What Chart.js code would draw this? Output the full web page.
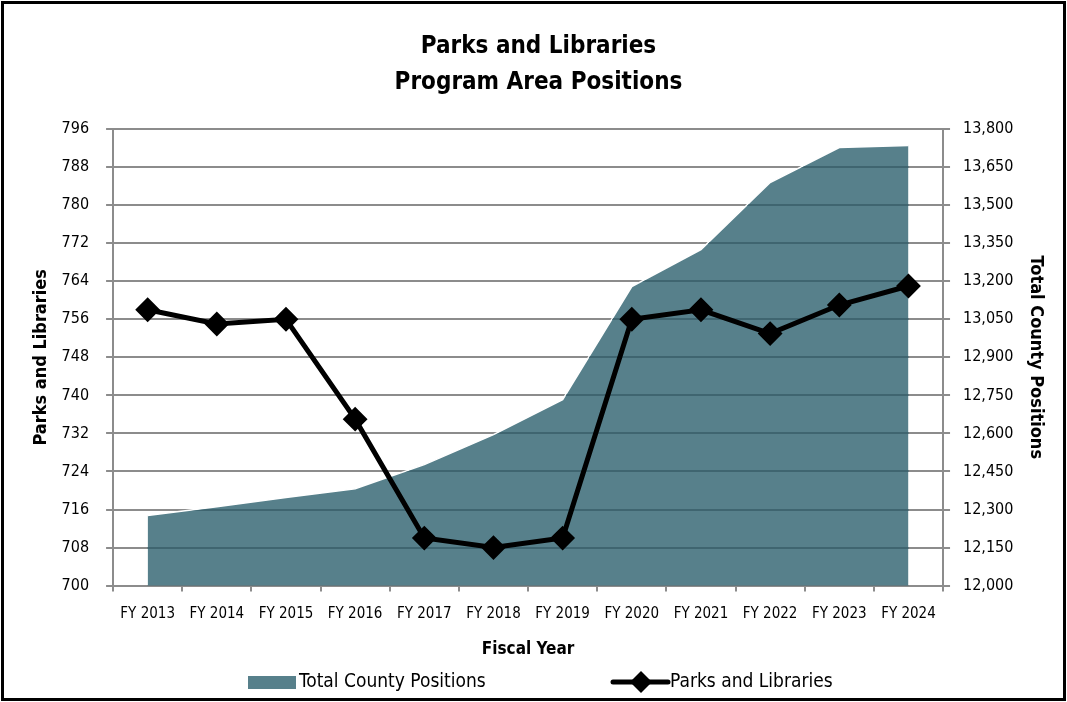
<!DOCTYPE html>
<html lang="en">
<head>
  <meta charset="UTF-8">
  <title>Parks and Libraries – Program Area Positions</title>
  <script src="https://cdn.jsdelivr.net/npm/chart.js"></script>
  <style>
    body {
      margin: 0;
      background: #fff;
    }
    #frame {
      position: absolute;
      left: 1px;
      top: 1px;
      width: 1065px;
      height: 700px;
      box-sizing: border-box;
      border: 3px solid #000;
    }
    #chart {
      display: block;
    }
  </style>
</head>
<body>

  <div id="frame">
    <canvas id="chart" width="1059" height="694"></canvas>
  </div>

  <script>
    const years = ['FY 2013', 'FY 2014', 'FY 2015', 'FY 2016', 'FY 2017', 'FY 2018',
                   'FY 2019', 'FY 2020', 'FY 2021', 'FY 2022', 'FY 2023', 'FY 2024'];
    const parksLibraries = [758, 755, 756, 735, 710, 708, 710, 756, 758, 753, 759, 763];
    const totalCounty = [12276, 12311, 12347, 12382, 12477, 12595, 12733, 13179, 13325, 13589, 13727, 13735];

    const leftTicks = { min: 700, max: 796, step: 8 };
    const rightTicks = { min: 12000, max: 13800, step: 150 };

    const FONT = "'Liberation Sans Narrow', 'DejaVu Sans Condensed', 'Arial Narrow', 'Liberation Sans', sans-serif";
    const TEAL = '#57808b';
    const GRID = '#8c8c8c';

    Chart.defaults.font.family = FONT;
    Chart.defaults.color = '#000';

    // grid lines show through the area fill, a darker teal
    const gridOverArea = {
      id: 'gridOverArea',
      afterDatasetDraw(chart, args) {
        if (args.index !== 0) return;
        const pts = args.meta.data;
        const area = chart.chartArea;
        const ctx = chart.ctx;
        ctx.save();
        ctx.beginPath();
        ctx.moveTo(pts[0].x, area.bottom);
        pts.forEach(p => ctx.lineTo(p.x, p.y + 1));
        ctx.lineTo(pts[pts.length - 1].x, area.bottom);
        ctx.closePath();
        ctx.clip();
        ctx.strokeStyle = '#3f6570';
        ctx.lineWidth = 2;
        const ys = chart.scales.y;
        ys.ticks.forEach(t => {
          const y = Math.round(ys.getPixelForValue(t.value));
          ctx.beginPath();
          ctx.moveTo(area.left, y);
          ctx.lineTo(area.right, y);
          ctx.stroke();
        });
        ctx.restore();
      }
    };

    const bottomLegend = {
      id: 'bottomLegend',
      afterDraw(chart) {
        const ctx = chart.ctx;
        const y = 678;
        ctx.save();
        ctx.font = '19px ' + FONT;
        ctx.textBaseline = 'middle';
        ctx.fillStyle = TEAL;
        ctx.fillRect(244, y - 6, 48, 13);
        ctx.fillStyle = '#000';
        ctx.fillText('Total County Positions', 295, y);

        ctx.strokeStyle = '#000';
        ctx.lineWidth = 5;
        ctx.lineCap = 'round';
        ctx.beginPath();
        ctx.moveTo(609, y);
        ctx.lineTo(664, y);
        ctx.stroke();
        ctx.beginPath();
        ctx.moveTo(637, y - 11);
        ctx.lineTo(648, y);
        ctx.lineTo(637, y + 11);
        ctx.lineTo(626, y);
        ctx.closePath();
        ctx.fill();
        ctx.fillText('Parks and Libraries', 666, y);
        ctx.restore();
      }
    };

    const ctx = document.getElementById('chart').getContext('2d');
    new Chart(ctx, {
      type: 'line',
      data: {
        labels: years,
        datasets: [
          {
            label: 'Total County Positions',
            data: totalCounty,
            yAxisID: 'y2',
            fill: 'start',
            backgroundColor: TEAL,
            borderColor: '#ffffff',
            borderWidth: 1.5,
            pointRadius: 0,
            tension: 0,
            order: 2
          },
          {
            label: 'Parks and Libraries',
            data: parksLibraries,
            yAxisID: 'y',
            borderColor: '#000',
            borderWidth: 5,
            pointStyle: 'rectRot',
            pointRadius: 11,
            pointBorderWidth: 2,
            pointBackgroundColor: '#000',
            pointBorderColor: '#000',
            tension: 0,
            order: 1
          }
        ]
      },
      options: {
        responsive: false,
        animation: false,
        layout: {
          padding: { left: 27, right: 17, top: 0, bottom: 34 }
        },
        plugins: {
          legend: { display: false },
          tooltip: { enabled: false },
          title: {
            display: true,
            text: ['Parks and Libraries', 'Program Area Positions'],
            font: { size: 24, weight: 'bold', lineHeight: 1.48 },
            color: '#000',
            padding: { top: 25, bottom: 29 }
          }
        },
        scales: {
          x: {
            offset: true,
            grid: {
              offset: true,
              drawOnChartArea: false,
              drawTicks: true,
              tickLength: 6,
              color: GRID,
              lineWidth: 2
            },
            border: { color: GRID, width: 2 },
            ticks: { font: { size: 15 }, color: '#000', padding: 14, maxRotation: 0 },
            title: {
              display: true,
              text: 'Fiscal Year',
              font: { size: 17, weight: 'bold' },
              color: '#000',
              padding: { top: 2, bottom: 4 }
            }
          },
          y: {
            position: 'left',
            min: leftTicks.min,
            max: leftTicks.max,
            ticks: { stepSize: leftTicks.step, font: { size: 16 }, color: '#000', padding: 17 },
            grid: { color: GRID, lineWidth: 2, tickLength: 7 },
            border: { color: GRID, width: 2 },
            title: {
              display: true,
              text: 'Parks and Libraries',
              font: { size: 18, weight: 'bold' },
              color: '#000',
              padding: { top: 0, bottom: -8 }
            }
          },
          y2: {
            position: 'right',
            min: rightTicks.min,
            max: rightTicks.max,
            ticks: {
              stepSize: rightTicks.step,
              font: { size: 16 },
              color: '#000',
              padding: 13,
              callback: v => v.toLocaleString('en-US')
            },
            grid: { drawOnChartArea: false, color: GRID, lineWidth: 2, tickLength: 7 },
            border: { color: GRID, width: 2 },
            title: {
              display: true,
              text: 'Total County Positions',
              font: { size: 18, weight: 'bold' },
              color: '#000',
              padding: { top: 0, bottom: -2 }
            }
          }
        }
      },
      plugins: [gridOverArea, bottomLegend]
    });
  </script>

</body>
</html>
